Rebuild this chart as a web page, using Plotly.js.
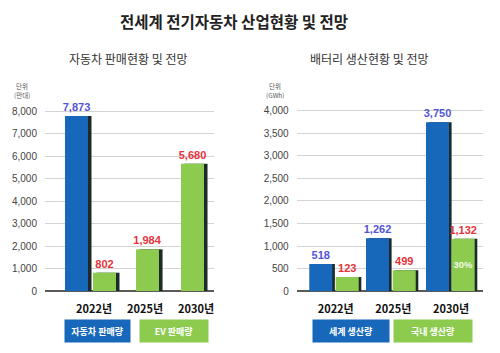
<!DOCTYPE html>
<html>
<head>
<meta charset="utf-8">
<script src="https://cdn.plot.ly/plotly-3.0.1.min.js"></script>
<style>
  html, body { margin: 0; padding: 0; background: #ffffff; }
  #chart { width: 500px; height: 353px; }
</style>
</head>
<body>
<div id="chart"></div>
<script>
// ---------------- data ----------------
const years = ['2022년', '2025년', '2030년'];

// left chart: vehicle sales (unit: 만대)
const carSalesBars = [7780, null, null];          // bar heights as drawn
const carSalesLabels = ['7,873', '', ''];         // printed values
const evSalesBars = [813, 1852, 5658];
const evSalesLabels = ['802', '1,984', '5,680'];

// right chart: battery production (unit: GWh)
const worldBatteryBars = [600, 1171, 3749];        // bar heights as drawn
const worldBatteryLabels = ['518', '1,262', '3,750'];
const koreaBatteryBars = [311, 460, 1162];
const koreaBatteryLabels = ['123', '499', '1,132'];
const koreaShareLabels = ['', '', '30%'];

const leftLegend = ['자동차 판매량', 'EV 판매량'];
const rightLegend = ['세계 생산량', '국내 생산량'];
const leftUnit = ['단위', '(만대)'];
const rightUnit = ['단위', '(GWh)'];

// ---------------- styles ----------------
const BLUE = '#1767BA';
const GREEN = '#8CCB4E';
const SHADOW = '#1d2a2a';
const BLUE_TXT = '#5454D6';
const RED_TXT = '#E5333B';
const NUMFONT = 'Liberation Sans, Arial, Noto Sans CJK KR, sans-serif';
const KRFONT = 'Noto Sans CJK KR, Liberation Sans, sans-serif';

function px(x) { return x / 500; }
function py(y) { return 1 - y / 353; }

// bar geometry (category units)
const L = { w: 0.451, s: 0.069, blue: [-0.569, -0.569, -0.569], green: [-0.02, -0.176, -0.294] };
const R = { w: 0.399, s: 0.045, blue: [-0.458, -0.475, -0.435], green: [0.0, -0.012, 0.01] };

function shift(arr, d) { return arr.map(v => v + d); }

function barTrace(vals, color, offsets, width, xa, ya, text, txtColor, extra) {
  return Object.assign({
    type: 'bar', x: years, y: vals,
    xaxis: xa, yaxis: ya,
    width: width, offset: offsets,
    marker: { color: color, line: { width: 0 } },
    text: text || null,
    textposition: 'outside',
    textangle: 0,
    constraintext: 'none',
    textfont: { family: NUMFONT, size: 11, color: txtColor || '#000', weight: 'bold' },
    cliponaxis: false,
    hoverinfo: 'skip'
  }, extra || {});
}

const traces = [
  // left chart shadows
  barTrace(carSalesBars, SHADOW, shift(L.blue, L.s), L.w, 'x', 'y'),
  barTrace(evSalesBars, SHADOW, shift(L.green, L.s), L.w, 'x', 'y'),
  // left chart bars
  barTrace(carSalesBars, BLUE, L.blue, L.w, 'x', 'y', carSalesLabels, BLUE_TXT),
  barTrace(evSalesBars, GREEN, L.green, L.w, 'x', 'y', evSalesLabels, RED_TXT),
  // right chart shadows
  barTrace(worldBatteryBars, SHADOW, shift(R.blue, R.s), R.w, 'x2', 'y2'),
  barTrace(koreaBatteryBars, SHADOW, shift(R.green, R.s), R.w, 'x2', 'y2'),
  // right chart bars
  barTrace(worldBatteryBars, BLUE, R.blue, R.w, 'x2', 'y2', worldBatteryLabels, BLUE_TXT),
  barTrace(koreaBatteryBars, GREEN, R.green, R.w, 'x2', 'y2', koreaBatteryLabels, RED_TXT),
  // share label inside the 2030 domestic bar
  barTrace(koreaBatteryBars, 'rgba(0,0,0,0)', R.green, R.w, 'x2', 'y2', koreaShareLabels, '#ffffff',
    { textposition: 'inside', insidetextanchor: 'middle',
      textfont: { family: NUMFONT, size: 9.5, color: 'rgba(255,255,255,0.9)', weight: 'bold' } })
];

const tickFontY = { family: NUMFONT, size: 10, color: '#444' };
const tickFontX = { family: KRFONT, size: 11, color: '#111', weight: 'bold' };

function xAxis(domain, range, anchor) {
  return {
    domain: domain, range: range, type: 'category', anchor: anchor,
    showgrid: false, zeroline: false, showline: false, ticks: '',
    tickfont: tickFontX, ticklabelstandoff: 10, fixedrange: true, automargin: false
  };
}
function yAxis(range, dtick, anchor) {
  return {
    domain: [py(291), py(96)], range: range, dtick: dtick, anchor: anchor,
    tickformat: ',d', showgrid: true, gridcolor: '#d4d4d4', gridwidth: 1,
    zeroline: true, zerolinecolor: '#5a5a5a', zerolinewidth: 2,
    showline: false, ticks: '', tickfont: tickFontY, ticklabelstandoff: 7,
    fixedrange: true, automargin: false
  };
}

function legendBox(text, color, cx, w) {
  return {
    xref: 'paper', yref: 'paper', x: px(cx), y: py(331), xanchor: 'center', yanchor: 'middle',
    text: '<b>' + text + '</b>', showarrow: false,
    font: { family: KRFONT, size: 9, color: '#ffffff' },
    bgcolor: color, width: w, height: 22, borderpad: 0, align: 'center'
  };
}
function unitText(text, cx, cy) {
  return {
    xref: 'paper', yref: 'paper', x: px(cx), y: py(cy), xanchor: 'center', yanchor: 'middle',
    text: text, showarrow: false,
    font: { family: KRFONT, size: 6.5, color: '#555' }
  };
}

const layout = {
  width: 500, height: 353,
  margin: { l: 0, r: 0, t: 0, b: 0 },
  paper_bgcolor: '#ffffff', plot_bgcolor: '#ffffff',
  showlegend: false, barmode: 'overlay',
  font: { family: KRFONT },
  xaxis: xAxis([px(45), px(214)], [-0.961, 2.353], 'y'),
  yaxis: yAxis([0, 8667], 1000, 'x'),
  xaxis2: xAxis([px(296.7), px(483)], [-0.676, 2.553], 'y2'),
  yaxis2: yAxis([0, 4333], 500, 'x2'),
  annotations: [
    { xref: 'paper', yref: 'paper', x: px(234), y: py(21), xanchor: 'center', yanchor: 'middle',
      text: '<b>전세계 전기자동차 산업현황 및 전망</b>', showarrow: false,
      font: { family: KRFONT, size: 15.5, color: '#222' } },
    { xref: 'paper', yref: 'paper', x: px(128), y: py(58), xanchor: 'center', yanchor: 'middle',
      text: '자동차 판매현황 및 전망', showarrow: false,
      font: { family: KRFONT, size: 12, color: '#333' } },
    { xref: 'paper', yref: 'paper', x: px(369), y: py(58), xanchor: 'center', yanchor: 'middle',
      text: '배터리 생산현황 및 전망', showarrow: false,
      font: { family: KRFONT, size: 12, color: '#333' } },
    unitText(leftUnit[0], 22, 86),
    unitText(leftUnit[1], 22, 95),
    unitText(rightUnit[0], 275, 86),
    unitText(rightUnit[1], 275, 95),
    legendBox(leftLegend[0], BLUE, 97.5, 65),
    legendBox(leftLegend[1], GREEN, 174, 68),
    legendBox(rightLegend[0], BLUE, 351, 76),
    legendBox(rightLegend[1], GREEN, 433, 78)
  ]
};

Plotly.newPlot('chart', traces, layout, { staticPlot: true, displayModeBar: false });
</script>
</body>
</html>
